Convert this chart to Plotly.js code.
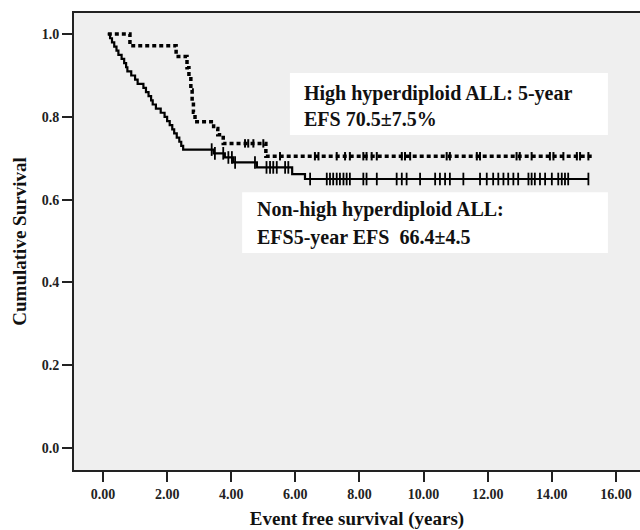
<!DOCTYPE html>
<html>
<head>
<meta charset="utf-8">
<script src="https://cdn.plot.ly/plotly-3.0.1.min.js"></script>
<style>html,body{margin:0;padding:0;background:#fff;}#chart{width:640px;height:530px;}</style>
</head>
<body>
<div id="chart"></div>
<script>
// Non-high hyperdiploid ALL (solid): event times (years) and survival after each event
const nonHighTimes = [0.15, 0.22, 0.28, 0.35, 0.42, 0.48, 0.58, 0.66, 0.72, 0.76, 0.88, 1.00, 1.08, 1.26, 1.34, 1.42, 1.50, 1.55, 1.65, 1.80, 1.92, 2.00, 2.08, 2.16, 2.22, 2.30, 2.38, 2.44, 2.50, 3.45, 3.80, 4.06, 4.80, 5.90, 6.30];
const nonHighSurv  = [1.000, 0.990, 0.980, 0.970, 0.960, 0.950, 0.940, 0.930, 0.920, 0.910, 0.900, 0.890, 0.880, 0.870, 0.860, 0.850, 0.840, 0.830, 0.820, 0.810, 0.800, 0.790, 0.780, 0.770, 0.760, 0.750, 0.740, 0.730, 0.721, 0.712, 0.702, 0.690, 0.678, 0.662, 0.650];
const nonHighEnd = 15.15;
const nonHighCensor = [3.39, 3.49, 3.75, 3.91, 4.02, 4.12, 4.74, 5.10, 5.21, 5.31, 5.42, 5.68, 5.78, 6.46, 6.98, 7.08, 7.18, 7.29, 7.39, 7.50, 7.60, 7.70, 8.12, 8.22, 8.54, 9.16, 9.32, 9.47, 9.89, 10.36, 10.51, 10.67, 10.82, 11.24, 11.76, 11.97, 12.17, 12.33, 12.49, 12.64, 12.80, 12.95, 13.27, 13.37, 13.47, 13.63, 13.79, 14.00, 14.20, 14.31, 14.41, 14.51, 15.14];

// High hyperdiploid ALL (dashed)
const highTimes = [0.15, 0.84, 2.28, 2.62, 2.68, 2.74, 2.78, 2.82, 2.87, 3.45, 3.58, 3.75, 5.08];
const highSurv  = [1.000, 0.972, 0.946, 0.919, 0.892, 0.865, 0.838, 0.811, 0.788, 0.772, 0.757, 0.736, 0.705];
const highEnd = 15.25;
const highCensor = [4.43, 4.53, 4.69, 5.00, 5.52, 6.61, 6.72, 7.29, 7.55, 7.70, 8.12, 8.22, 8.38, 8.54, 9.32, 9.42, 9.58, 10.72, 10.82, 11.66, 11.76, 12.90, 13.00, 13.37, 13.94, 14.05, 14.36, 14.78, 14.88, 15.14];

const xTicks = [0, 2, 4, 6, 8, 10, 12, 14, 16];
const yTicks = [0.0, 0.2, 0.4, 0.6, 0.8, 1.0];

const labelHigh = ["High hyperdiploid ALL: 5-year", "EFS 70.5±7.5%"];
const labelNon = ["Non-high hyperdiploid ALL:", "EFS5-year EFS  66.4±4.5"];

function stepAt(times, surv, t) {
  let v = surv[0];
  for (let i = 0; i < times.length; i++) { if (times[i] <= t) v = surv[i]; }
  return v;
}

const FONT = "Liberation Serif, 'Times New Roman', serif";

const traces = [
  {x: nonHighTimes.concat([nonHighEnd]), y: nonHighSurv.concat([nonHighSurv[nonHighSurv.length-1]]),
   mode: 'lines', line: {shape: 'hv', color: '#000', width: 2.2}, hoverinfo: 'none'},
  {x: nonHighCensor, y: nonHighCensor.map(t => stepAt(nonHighTimes, nonHighSurv, t)),
   mode: 'markers', marker: {symbol: 'line-ns', size: 9, line: {color: '#000', width: 1.8}}, hoverinfo: 'none'},
  {x: highTimes.concat([highEnd]), y: highSurv.concat([highSurv[highSurv.length-1]]),
   mode: 'lines', line: {shape: 'hv', color: '#000', width: 3.5, dash: '4px,3px'}, hoverinfo: 'none'},
  {x: highCensor, y: highCensor.map(t => stepAt(highTimes, highSurv, t)),
   mode: 'markers', marker: {symbol: 'line-ns', size: 6, line: {color: '#000', width: 2}}, hoverinfo: 'none'}
];

const annFont = {family: FONT, size: 20, color: '#111', weight: 'bold'};
const layout = {
  width: 640, height: 530,
  margin: {l: 74, r: 0, t: 13, b: 60},
  paper_bgcolor: '#ffffff', plot_bgcolor: '#efefef',
  showlegend: false,
  xaxis: {range: [-0.905, 16.75], tickvals: xTicks, ticktext: xTicks.map(v => v.toFixed(2)),
    ticks: 'outside', ticklen: 10, tickwidth: 2, tickcolor: '#222',
    showline: true, linecolor: '#222', linewidth: 2, mirror: true, showgrid: false, zeroline: false,
    tickfont: {family: FONT, size: 14, color: '#222', weight: 'bold'},
    title: {text: 'Event free survival (years)', font: {family: FONT, size: 19, color: '#111', weight: 'bold'}, standoff: 11}},
  yaxis: {range: [-0.053, 1.051], tickvals: yTicks, ticktext: yTicks.map(v => v.toFixed(1)),
    ticks: 'outside', ticklen: 10, tickwidth: 2, tickcolor: '#222',
    showline: true, linecolor: '#222', linewidth: 2, mirror: true, showgrid: false, zeroline: false,
    tickfont: {family: FONT, size: 14, color: '#222', weight: 'bold'},
    title: {text: 'Cumulative Survival', font: {family: FONT, size: 19, color: '#111', weight: 'bold'}, standoff: 10}},
  shapes: [
    {type: 'rect', xref: 'x', yref: 'y', x0: 5.83, x1: 15.75, y0: 0.756, y1: 0.906, fillcolor: '#ffffff', line: {width: 0}, layer: 'below'},
    {type: 'rect', xref: 'x', yref: 'y', x0: 4.34, x1: 15.75, y0: 0.471, y1: 0.618, fillcolor: '#ffffff', line: {width: 0}, layer: 'below'}
  ],
  annotations: [
    {xref: 'x', yref: 'y', x: 6.20, y: 0.857, text: labelHigh[0], showarrow: false, xanchor: 'left', yanchor: 'middle', font: annFont},
    {xref: 'x', yref: 'y', x: 6.20, y: 0.794, text: labelHigh[1], showarrow: false, xanchor: 'left', yanchor: 'middle', font: annFont},
    {xref: 'x', yref: 'y', x: 4.74, y: 0.576, text: labelNon[0], showarrow: false, xanchor: 'left', yanchor: 'middle', font: annFont},
    {xref: 'x', yref: 'y', x: 4.74, y: 0.509, text: labelNon[1], showarrow: false, xanchor: 'left', yanchor: 'middle', font: annFont}
  ]
};

Plotly.newPlot('chart', traces, layout, {staticPlot: true, displayModeBar: false});
</script>
</body>
</html>
